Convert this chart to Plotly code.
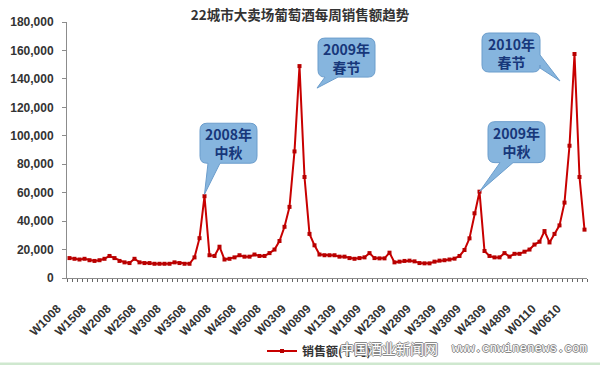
import plotly.graph_objects as go

# ---------------- data ----------------
categories = ([f"W{w:02d}08" for w in range(10, 53)]
              + [f"W{w:02d}09" for w in range(1, 53)]
              + [f"W{w:02d}10" for w in range(1, 10)])

sales = [
    14000, 13500, 13000, 13500, 12500, 12000, 12500, 13500, 15500, 14000,
    12000, 11000, 10500, 13500, 11000, 10500, 10500, 10000, 10000, 10000,
    10000, 11000, 10500, 10000, 10000, 14500, 28000, 57500, 16000, 15500,
    22000, 13000, 13500, 14500, 16000, 15000, 15000, 16500, 15500, 15500,
    17500, 20000, 26000, 36000, 50000, 89000, 149000, 71000, 31000, 23000,
    16500, 16000, 16000, 16000, 15000, 15000, 14000, 13500, 14000, 14500,
    17500, 14000, 13800, 13800, 17800, 11000, 11500, 12000, 12200, 11700,
    10500, 10300, 10300, 11500, 12200, 12500, 13000, 13600, 15500, 19700,
    27900, 45500, 60700, 19000, 15500, 14500, 14500, 17500, 15000, 17000,
    17000, 18500, 20000, 23500, 25500, 33000, 25000, 31000, 37000, 53000,
    93000, 157500, 71000, 34000,
]

tick_labels = ["W1008", "W1508", "W2008", "W2508", "W3008", "W3508", "W4008",
               "W4508", "W5008", "W0309", "W0809", "W1309", "W1809", "W2309",
               "W2809", "W3309", "W3809", "W4309", "W4809", "W0110", "W0610"]

y_ticks = [0, 20000, 40000, 60000, 80000, 100000, 120000, 140000, 160000, 180000]

series_name = "销售额(千元)"
title_text = "22城市大卖场葡萄酒每周销售额趋势"

callout_texts = ["2008年<br>中秋", "2009年<br>春节", "2009年<br>中秋", "2010年<br>春节"]
callout_cats = ["W3708", "W0409", "W4009", "W0710"]

# ---------------- figure ----------------
idx = list(range(len(categories)))
fig = go.Figure()
fig.add_trace(go.Scatter(
    x=idx, y=sales, name=series_name, mode="lines+markers",
    line=dict(color="#c80000", width=2),
    marker=dict(symbol="square", size=4, color="#b80000"),
    customdata=categories,
    hovertemplate="%{customdata}: %{y:,}<extra></extra>",
    showlegend=True,
))

# callout geometry (pixel offsets relative to the anchored data point, y up)
callout_geom = [
    dict(box=(-4.5, 52.5, 73, 33), edge="bottom", base=(3.5, 15.5), tip=(0, 2)),
    dict(box=(18.5, 75.5, 28, -11), edge="bottom", base=(25.5, 38.5), tip=(17.5, -22)),
    dict(box=(8.5, 65.5, 70, 29), edge="bottom", base=(20.5, 33.5), tip=(0, 0)),
    dict(box=(-92.5, -34.5, 21, -18), edge="right", base=(-1, -14), tip=(-14.5, -27)),
]


def bubble_path(box, edge, base, tip, r=7):
    x0, x1, yt, yb = box
    p = [f"M{x0 + r},{yt}", f"L{x1 - r},{yt}", f"Q{x1},{yt} {x1},{yt - r}"]
    if edge == "right":
        p += [f"L{x1},{base[0]}", f"L{tip[0]},{tip[1]}", f"L{x1},{base[1]}"]
    p += [f"L{x1},{yb + r}", f"Q{x1},{yb} {x1 - r},{yb}"]
    if edge == "bottom":
        p += [f"L{base[1]},{yb}", f"L{tip[0]},{tip[1]}", f"L{base[0]},{yb}"]
    p += [f"L{x0 + r},{yb}", f"Q{x0},{yb} {x0},{yb + r}",
          f"L{x0},{yt - r}", f"Q{x0},{yt} {x0 + r},{yt}", "Z"]
    return " ".join(p)


for text, cat, g in zip(callout_texts, callout_cats, callout_geom):
    i = categories.index(cat)
    v = sales[i]
    fig.add_shape(type="path", xref="x", yref="y", xsizemode="pixel", ysizemode="pixel",
                  xanchor=i, yanchor=v, path=bubble_path(g["box"], g["edge"], g["base"], g["tip"]),
                  fillcolor="#86b5de", line=dict(color="#6b9dcc", width=1), layer="above")
    cx = (g["box"][0] + g["box"][1]) / 2
    cy = (g["box"][2] + g["box"][3]) / 2
    fig.add_annotation(x=i, y=v, xref="x", yref="y", text=text, showarrow=False,
                       xshift=cx, yshift=cy,
                       font=dict(family="Noto Sans CJK SC, Arial", size=14, color="#17377a",
                                 weight="bold"))

# plot area in pixels: x 67..587, y 22..278
PL, PW, PB, PH = 67, 520, 278, 256

outline = "1px 0 0 #8a8a8a, -1px 0 0 #8a8a8a, 0 1px 0 #8a8a8a, 0 -1px 0 #8a8a8a"
fig.add_annotation(x=(389 - PL) / PW, y=(PB - 348) / PH, xref="paper", yref="paper",
                   xanchor="center", yanchor="middle",
                   text="中国酒业新闻网", showarrow=False,
                   font=dict(family="Noto Sans CJK SC", size=14, color="#ffffff", shadow=outline))
fig.add_annotation(x=(519 - PL) / PW, y=(PB - 349) / PH, xref="paper", yref="paper",
                   xanchor="center", yanchor="middle",
                   text="www.cnwinenews.com", showarrow=False,
                   font=dict(family="Liberation Mono", size=12.5, color="#ffffff", shadow=outline))

# bottom green strip
fig.add_shape(type="rect", xref="paper", yref="paper",
              x0=-PL / PW, x1=(600 - PL) / PW, y0=(PB - 366) / PH, y1=(PB - 362.5) / PH,
              fillcolor="#cfe8cf", line=dict(width=0), layer="below")

fig.update_layout(
    width=600, height=365, autosize=False,
    margin=dict(l=PL, r=600 - PL - PW, t=PB - PH, b=365 - PB, autoexpand=False),
    paper_bgcolor="white", plot_bgcolor="white",
    title=dict(text=title_text, x=0.5, xref="container", xanchor="center",
               y=1 - 15 / 365, yref="container", yanchor="middle",
               font=dict(family="Noto Sans CJK SC", size=13.5, color="#333333", weight="bold")),
    showlegend=True,
    legend=dict(orientation="h", xref="container", yref="container",
                x=262 / 600, xanchor="left", y=1 - 351 / 365, yanchor="middle",
                font=dict(family="Noto Sans CJK SC", size=12, color="#333333", weight="bold"),
                bgcolor="rgba(0,0,0,0)"),
    xaxis=dict(range=[-0.5, len(categories) - 0.5], tickmode="array",
               tickvals=[categories.index(t) for t in tick_labels],
               ticktext=tick_labels,
               tickangle=-45, ticks="", showgrid=False, zeroline=False, automargin=False,
               showline=True, linecolor="#8c8c8c", linewidth=1,
               ticklabelshift=-12, ticklabelstandoff=18,
               tickfont=dict(family="Arial, Liberation Sans", size=12, color="#333333", weight="bold"),
               minor=dict(tickmode="linear", tick0=-0.5, dtick=1, ticks="outside",
                          ticklen=3, tickcolor="#666666", showgrid=False)),
    yaxis=dict(range=[0, 180000], tickmode="array", tickvals=y_ticks,
               tickformat=",", ticks="outside", ticklen=4, tickcolor="#8c8c8c",
               showline=True, linecolor="#8c8c8c", linewidth=1, automargin=False,
               showgrid=False, zeroline=False, ticklabelstandoff=6,
               tickfont=dict(family="Arial, Liberation Sans", size=12, color="#333333", weight="bold")),
)

fig.write_html("out.html", config={"displayModeBar": False},
               post_script="document.body.style.margin='0px';document.body.style.padding='0px';")
